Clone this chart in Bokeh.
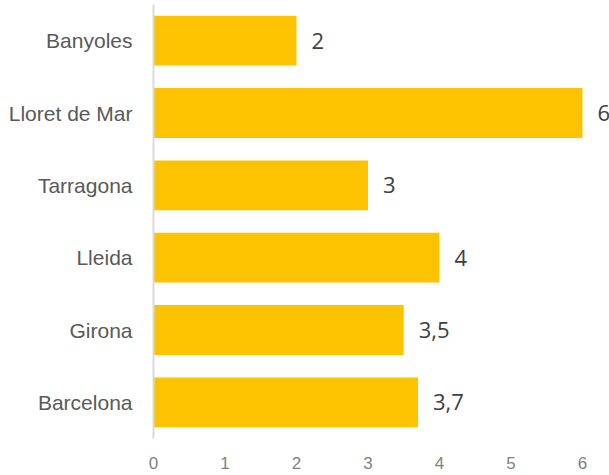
from bokeh.plotting import figure
from bokeh.models import FactorRange, Range1d, FixedTicker, ColumnDataSource
from bokeh.core.properties import value
from bokeh.embed import file_html
from bokeh.resources import INLINE

cities = ["Banyoles", "Lloret de Mar", "Tarragona", "Lleida", "Girona", "Barcelona"]
values = [2, 6, 3, 4, 3.5, 3.7]
labels = [("%g" % v).replace(".", ",") for v in values]
x_ticks = [0, 1, 2, 3, 4, 5, 6]

src = ColumnDataSource(dict(city=cities, val=values, lab=labels))

p = figure(
    width=609, height=475,
    y_range=FactorRange(factors=list(reversed(cities))),
    x_range=Range1d(0, 6.378),
    output_backend="svg", toolbar_location=None,
    min_border_left=153, min_border_right=0, min_border_top=4, min_border_bottom=37,
)
p.outline_line_color = None
p.xgrid.grid_line_color = None
p.ygrid.grid_line_color = None

p.hbar(y="city", right="val", left=0, height=0.69, source=src,
       fill_color="#FDC300", line_color=None)
p.text(x="val", y="city", text="lab", source=src, x_offset=15,
       text_baseline="middle", text_align="left",
       text_font=value("Open Sans"), text_font_size="22px", text_color="#404040")

xa = p.xaxis[0]
xa.ticker = FixedTicker(ticks=x_ticks)
xa.axis_line_color = None
xa.major_tick_line_color = None
xa.minor_tick_line_color = None
xa.major_label_text_font = "Liberation Sans"
xa.major_label_text_font_size = "17px"
xa.major_label_text_color = "#7f7f7f"
xa.major_label_standoff = 12

ya = p.yaxis[0]
ya.axis_line_color = "#d9d9d9"
ya.axis_line_width = 2
ya.major_tick_line_color = None
ya.minor_tick_line_color = None
ya.major_label_text_font = "Liberation Sans"
ya.major_label_text_font_size = "21px"
ya.major_label_text_color = "#595959"
ya.major_label_standoff = 15

open("out.html", "w").write(file_html(p, INLINE))
